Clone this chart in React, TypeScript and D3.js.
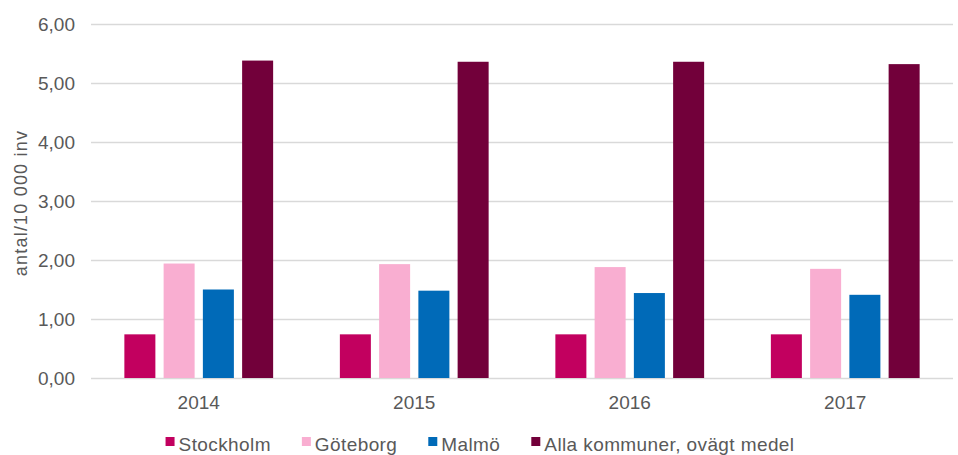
import React, { useRef, useEffect } from 'react';
import * as d3 from 'd3';

// Values
const years = ['2014', '2015', '2016', '2017'];
const seriesNames = ['Stockholm', 'Göteborg', 'Malmö', 'Alla kommuner, ovägt medel'];
const seriesColors = ['#c2005f', '#f9aed1', '#006ab8', '#72003a'];
const stockholm = [0.74, 0.74, 0.74, 0.74];
const goteborg = [1.94, 1.93, 1.88, 1.85];
const malmo = [1.5, 1.48, 1.44, 1.41];
const allaKommuner = [5.38, 5.36, 5.36, 5.32];
const yTicks = [0, 1, 2, 3, 4, 5, 6];
const yTitle = 'antal/10 000 inv';

const W = 958;
const H = 455;
const FONT = '"Liberation Sans", Arial, sans-serif';

const App = () => {
  const ref = useRef<SVGSVGElement>(null);

  useEffect(() => {
    const svg = d3.select(ref.current);
    svg.selectAll('*').remove();

    const margin = { top: 24, right: 5, bottom: 77, left: 91 };
    const values = [stockholm, goteborg, malmo, allaKommuner];

    const x0 = d3.scaleBand().domain(years).range([margin.left, W - margin.right]);
    const x1 = d3.scaleBand().domain(seriesNames).range([0, x0.bandwidth()])
      .paddingInner(0.21).paddingOuter(0.85);
    const y = d3.scaleLinear().domain([0, 6]).range([H - margin.bottom, margin.top]);

    // grid + y labels
    const yAxis = d3.axisLeft(y).tickValues(yTicks)
      .tickSize(-(W - margin.left - margin.right))
      .tickPadding(16)
      .tickFormat(d => d3.format('.2f')(d as number).replace('.', ','));
    const gy = svg.append('g').attr('transform', `translate(${margin.left},0)`).call(yAxis);
    gy.select('.domain').remove();
    gy.selectAll('line').attr('stroke', '#d9d9d9').attr('stroke-width', 1.3);
    gy.selectAll('text').attr('fill', '#595959').attr('font-size', 19).attr('font-family', FONT);

    // bars
    seriesNames.forEach((name, si) => {
      svg.append('g').selectAll('rect')
        .data(values[si])
        .enter()
        .append('rect')
        .attr('x', (d, i) => (x0(years[i]) as number) + (x1(name) as number))
        .attr('y', d => y(d))
        .attr('width', x1.bandwidth())
        .attr('height', d => y(0) - y(d))
        .attr('fill', seriesColors[si]);
    });

    // x labels
    const xAxis = d3.axisBottom(x0).tickSize(0).tickPadding(18);
    const gx = svg.append('g').attr('transform', `translate(0,${y(0)})`).call(xAxis);
    gx.select('.domain').remove();
    gx.selectAll('text').attr('fill', '#595959').attr('font-size', 19).attr('font-family', FONT);

    // y title
    svg.append('text')
      .attr('transform', `translate(27,${(y(0) + y(6)) / 2 + 2}) rotate(-90)`)
      .attr('text-anchor', 'middle')
      .attr('fill', '#595959')
      .attr('font-size', 18)
      .attr('letter-spacing', 1.2)
      .attr('font-family', FONT)
      .text(yTitle);

    // legend, centered on the whole picture
    const legend = svg.append('g');
    let cx = 0;
    seriesNames.forEach((name, i) => {
      const item = legend.append('g').attr('transform', `translate(${cx},0)`);
      item.append('rect').attr('x', 0).attr('y', -8).attr('width', 9).attr('height', 9)
        .attr('fill', seriesColors[i]);
      const t = item.append('text').attr('x', 13).attr('y', 0).attr('dy', '0.32em')
        .attr('fill', '#595959').attr('font-size', 19).attr('letter-spacing', 0.4)
        .attr('font-family', FONT)
        .text(name);
      const tw = (t.node() as SVGTextElement).getComputedTextLength();
      cx += 13 + tw + 31;
    });
    const total = cx - 31;
    legend.attr('transform', `translate(${W / 2 - total / 2 + 1},445)`);
  }, []);

  return (
    <svg ref={ref} width={W} height={H}
      style={{ position: 'absolute', left: 0, top: 0, background: '#fff' }} />
  );
};

export default App;
